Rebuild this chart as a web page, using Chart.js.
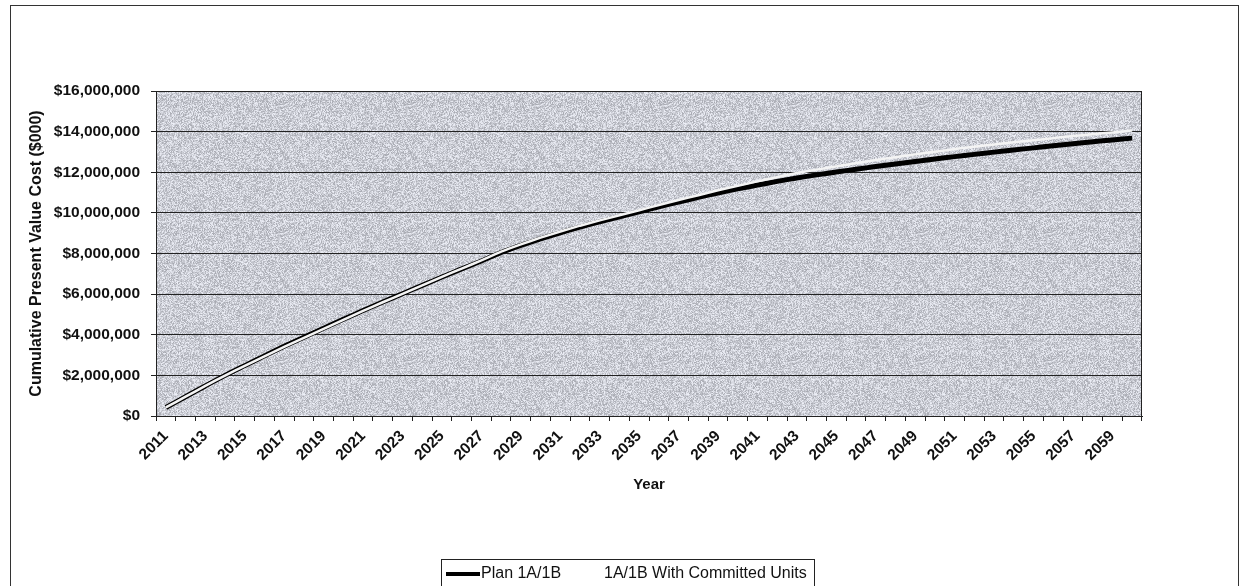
<!DOCTYPE html>
<html>
<head>
<meta charset="utf-8">
<script src="https://cdn.jsdelivr.net/npm/chart.js@4/dist/chart.umd.min.js"></script>
<style>
  html, body { margin: 0; padding: 0; background: #fff; }
  #wrap { position: relative; width: 1243px; height: 586px; overflow: hidden; }
  #frame { position: absolute; left: 10px; top: 5px; width: 1229px; height: 620px; border: 1px solid #333; box-sizing: border-box; }
  #chartCanvas { position: absolute; left: 0; top: 0; }
  #legend { position: absolute; left: 441px; top: 559px; width: 374px; height: 40px; border: 1px solid #222; box-sizing: border-box;
            font-family: 'Liberation Sans', Arial, sans-serif; font-size: 16px; color: #111; }
  #legend .sw { position: absolute; left: 4px; top: 12px; width: 34px; height: 4px; background: #000; }
  #legend .t1 { position: absolute; left: 39px; top: 4px; }
  #legend .t2 { position: absolute; left: 162px; top: 4px; }
</style>
</head>
<body>
<div id="wrap">
  <div id="frame"></div>
  <canvas id="chartCanvas" width="1243" height="586"></canvas>
  <div id="legend"><div class="sw"></div><span class="t1">Plan 1A/1B</span><span class="t2">1A/1B With Committed Units</span></div>
</div>
<script>
var years = [];
for (var y = 2011; y <= 2060; y++) years.push(String(y));

var plan1A1B = [
  420000, 950000, 1480000, 2000000, 2480000, 2960000, 3430000, 3880000, 4320000, 4760000,
  5190000, 5610000, 6020000, 6430000, 6840000, 7240000, 7630000, 8050000, 8400000, 8720000,
  9020000, 9300000, 9560000, 9800000, 10050000, 10300000, 10530000, 10760000, 10980000, 11180000,
  11370000, 11550000, 11720000, 11870000, 12010000, 12150000, 12280000, 12410000, 12530000, 12650000,
  12770000, 12880000, 12990000, 13100000, 13200000, 13300000, 13400000, 13500000, 13590000, 13680000
];

var withCommitted = [
  420000, 950000, 1480000, 1990000, 2470000, 2940000, 3400000, 3850000, 4290000, 4730000,
  5170000, 5600000, 6010000, 6430000, 6850000, 7260000, 7660000, 8090000, 8450000, 8780000,
  9080000, 9370000, 9630000, 9880000, 10130000, 10390000, 10630000, 10870000, 11110000, 11330000,
  11550000, 11760000, 11960000, 12130000, 12290000, 12450000, 12600000, 12740000, 12880000, 13010000,
  13140000, 13260000, 13370000, 13480000, 13580000, 13680000, 13780000, 13870000, 13960000, 14050000
];

var yTicks = [0, 2000000, 4000000, 6000000, 8000000, 10000000, 12000000, 14000000, 16000000];

var FONT = "'Liberation Sans', Arial, sans-serif";

// grey speckled plot background, like the scanned original
function makeTexture() {
  var c = document.createElement('canvas');
  c.width = 128; c.height = 128;
  var g = c.getContext('2d');
  var img = g.createImageData(128, 128);
  var seed = 2463534242;
  for (var i = 0; i < 128 * 128; i++) {
    seed ^= seed << 13; seed ^= seed >>> 17; seed ^= seed << 5;
    var n = ((seed >>> 8) % 70) - 35;
    img.data[i * 4] = 203 + n;
    img.data[i * 4 + 1] = 205 + n;
    img.data[i * 4 + 2] = 213 + n;
    img.data[i * 4 + 3] = 255;
  }
  g.putImageData(img, 0, 0);
  return c;
}

var plotBox = {
  id: 'plotBox',
  beforeDraw: function (chart) {
    var a = chart.chartArea, ctx = chart.ctx;
    ctx.save();
    ctx.fillStyle = ctx.createPattern(makeTexture(), 'repeat');
    ctx.fillRect(a.left, a.top, a.right - a.left, a.bottom - a.top);
    ctx.restore();
  },
  afterDraw: function (chart) {
    var a = chart.chartArea, ctx = chart.ctx;
    ctx.save();
    ctx.strokeStyle = '#222';
    ctx.lineWidth = 1;
    ctx.strokeRect(a.left + 0.5, a.top + 0.5, a.right - a.left - 1, a.bottom - a.top);
    ctx.restore();
  }
};

new Chart(document.getElementById('chartCanvas').getContext('2d'), {
  type: 'line',
  data: {
    labels: years,
    datasets: [{
      label: 'Plan 1A/1B',
      data: plan1A1B,
      borderColor: '#000',
      borderWidth: 5,
      pointRadius: 0,
      tension: 0.2,
      order: 2
    }, {
      label: '1A/1B With Committed Units',
      data: withCommitted,
      borderColor: '#f4f4f4',
      borderWidth: 2.5,
      pointRadius: 0,
      tension: 0.2,
      order: 1
    }]
  },
  options: {
    responsive: false,
    animation: false,
    layout: { padding: { left: 0, top: 91, right: 101, bottom: 0 } },
    plugins: { legend: { display: false }, tooltip: { enabled: false } },
    scales: {
      x: {
        offset: true,
        grid: { offset: true, drawOnChartArea: false, color: '#222', tickLength: 5 },
        border: { color: '#222' },
        ticks: {
          autoSkip: false, maxRotation: 45, minRotation: 45, padding: 6,
          color: '#111', font: { family: FONT, size: 15.5, weight: 'bold' },
          callback: function (v, i) { return i % 2 === 0 ? years[i] : ''; }
        },
        title: { display: true, text: 'Year', color: '#111', font: { family: FONT, size: 15, weight: 'bold' }, padding: { top: 4, bottom: 92 } },
        afterFit: function (s) { s.height = 170; }
      },
      y: {
        min: 0, max: 16000000,
        afterBuildTicks: function (s) { s.ticks = yTicks.map(function (v) { return { value: v }; }); },
        grid: { color: '#222', tickLength: 5 },
        border: { color: '#222' },
        ticks: {
          padding: 11, color: '#111', font: { family: FONT, size: 15.5, weight: 'bold' },
          callback: function (v) { return '$' + Number(v).toLocaleString('en-US'); }
        },
        title: { display: true, text: 'Cumulative Present Value Cost ($000)', color: '#111', font: { family: FONT, size: 16, weight: 'bold' }, padding: { top: 27, bottom: 4 } },
        afterFit: function (s) { s.width = 156; }
      }
    }
  },
  plugins: [plotBox]
});
</script>
</body>
</html>
